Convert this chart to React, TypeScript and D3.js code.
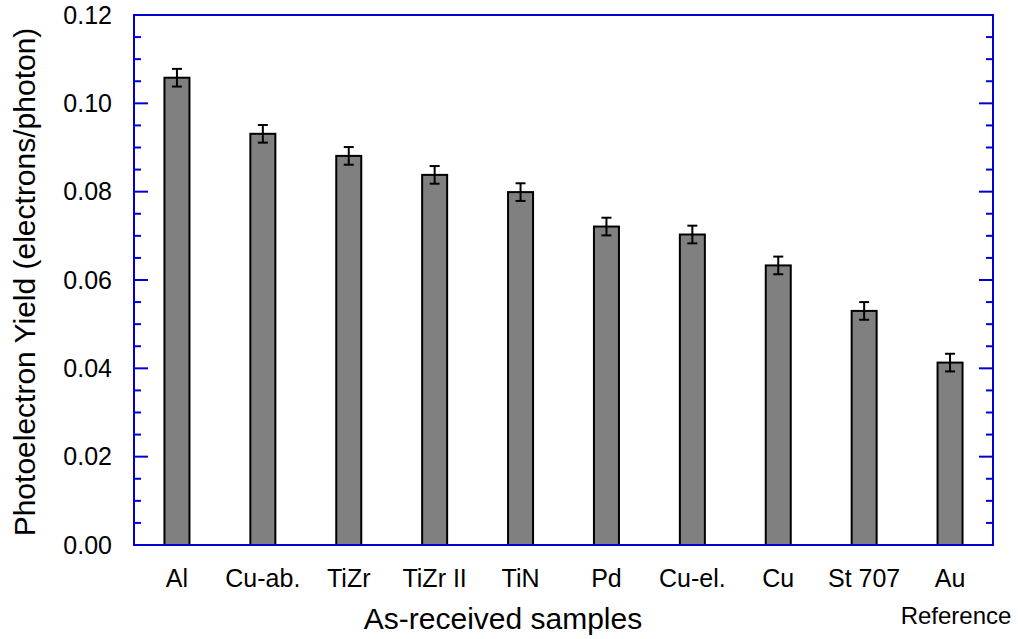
import React from "react";
import * as d3 from "d3";

const categories: string[] = ["Al", "Cu-ab.", "TiZr", "TiZr II", "TiN", "Pd", "Cu-el.", "Cu", "St 707", "Au"];
const yieldValues: number[] = [0.1058, 0.0931, 0.0881, 0.0838, 0.0799, 0.0721, 0.0703, 0.0633, 0.053, 0.0413];
const yieldErrors: number[] = [0.002, 0.002, 0.002, 0.002, 0.002, 0.002, 0.002, 0.002, 0.002, 0.002];
const yMajorTicks: number[] = [0, 0.02, 0.04, 0.06, 0.08, 0.1, 0.12];
const yMinorStep = 0.005;

const W = 1018;
const H = 639;
const M = { left: 134, right: 993, top: 15, bottom: 545 };
const AXIS = "#0000d4";
const FONT = "'Liberation Sans', Arial, sans-serif";

export default function App() {
  const x = d3.scaleLinear().domain([0.5, categories.length + 0.5]).range([M.left, M.right]);
  const y = d3.scaleLinear().domain([0, 0.12]).range([M.bottom, M.top]);
  const barW = 25;
  const capHalf = 5;
  const minorTicks = d3.range(0, 0.12 + 1e-9, yMinorStep).filter(
    (v) => !yMajorTicks.some((m) => Math.abs(m - v) < 1e-9)
  );

  return (
    <svg
      width={W}
      height={H}
      style={{ position: "absolute", left: 0, top: 0, background: "#fff" }}
      fontFamily={FONT}
    >
      {/* bars */}
      {categories.map((c, i) => {
        const cx = x(i + 1);
        const v = yieldValues[i];
        const e = yieldErrors[i];
        return (
          <g key={c}>
            <rect
              x={cx - barW / 2}
              y={y(v)}
              width={barW}
              height={y(0) - y(v)}
              fill="#808080"
              stroke="#000"
              strokeWidth={2}
            />
            <line x1={cx} x2={cx} y1={y(v + e)} y2={y(v - e)} stroke="#000" strokeWidth={2} />
            <line x1={cx - capHalf} x2={cx + capHalf} y1={y(v + e)} y2={y(v + e)} stroke="#000" strokeWidth={2} />
            <line x1={cx - capHalf} x2={cx + capHalf} y1={y(v - e)} y2={y(v - e)} stroke="#000" strokeWidth={2} />
          </g>
        );
      })}

      {/* ticks */}
      {yMajorTicks.map((t) => (
        <g key={"M" + t}>
          <line x1={M.left} x2={M.left + 14} y1={y(t)} y2={y(t)} stroke={AXIS} strokeWidth={2} />
          <line x1={M.right} x2={M.right - 14} y1={y(t)} y2={y(t)} stroke={AXIS} strokeWidth={2} />
          <text
            x={112}
            y={y(t)}
            dy="0.35em"
            textAnchor="end"
            fontSize={25}
            fill="#000"
          >
            {d3.format(".2f")(t)}
          </text>
        </g>
      ))}
      {minorTicks.map((t) => (
        <g key={"m" + t}>
          <line x1={M.left} x2={M.left + 7} y1={y(t)} y2={y(t)} stroke={AXIS} strokeWidth={2} />
          <line x1={M.right} x2={M.right - 7} y1={y(t)} y2={y(t)} stroke={AXIS} strokeWidth={2} />
        </g>
      ))}

      {/* frame */}
      <rect
        x={M.left}
        y={M.top}
        width={M.right - M.left}
        height={M.bottom - M.top}
        fill="none"
        stroke={AXIS}
        strokeWidth={2}
      />

      {/* x labels */}
      {categories.map((c, i) => (
        <text key={"l" + c} x={x(i + 1)} y={587} textAnchor="middle" fontSize={25} fill="#000">
          {c}
        </text>
      ))}

      <text x={503} y={629} textAnchor="middle" fontSize={30} fill="#000">
        As-received samples
      </text>
      <text x={956} y={624} textAnchor="middle" fontSize={24} fill="#000">
        Reference
      </text>
      <text
        transform={`translate(35, 282) rotate(-90)`}
        textAnchor="middle"
        fontSize={30}
        fill="#000"
      >
        Photoelectron Yield (electrons/photon)
      </text>
    </svg>
  );
}
